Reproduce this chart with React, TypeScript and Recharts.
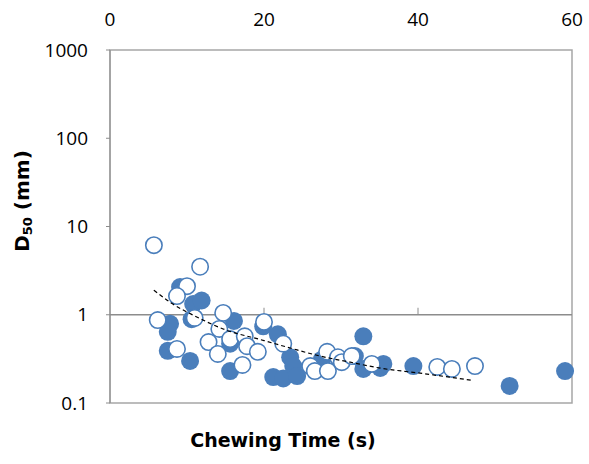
import React from 'react';
import {
  ScatterChart,
  Scatter,
  XAxis,
  YAxis,
  ReferenceArea,
  ReferenceLine,
  ReferenceDot,
} from 'recharts';

// chewing time (s) / D50 (mm), filled markers
const solidTime = [7.8, 7.5, 9.1, 10.8, 11.9, 10.6, 7.5, 10.4, 16.1, 15.6, 15.6, 19.9, 21.8, 21.2, 22.5, 23.4, 23.8, 24.3, 27.5, 31.8, 32.9, 32.9, 35.1, 35.5, 39.4, 51.9, 59.1];
const solidD50 = [0.79, 0.64, 2.06, 1.32, 1.45, 0.89, 0.39, 0.3, 0.85, 0.47, 0.23, 0.74, 0.6, 0.197, 0.19, 0.33, 0.262, 0.202, 0.31, 0.34, 0.57, 0.243, 0.25, 0.277, 0.262, 0.156, 0.23];

// open markers
const openTime = [5.7, 11.7, 10.0, 8.7, 6.2, 11.0, 14.7, 14.2, 12.8, 15.6, 17.5, 17.8, 14.0, 19.2, 8.7, 17.2, 20.0, 22.5, 26.0, 26.6, 28.3, 28.2, 29.6, 30.1, 31.4, 34.0, 42.5, 44.4, 47.4];
const openD50 = [6.15, 3.5, 2.11, 1.63, 0.87, 0.92, 1.05, 0.69, 0.49, 0.53, 0.57, 0.44, 0.36, 0.38, 0.41, 0.27, 0.83, 0.47, 0.262, 0.23, 0.23, 0.38, 0.33, 0.29, 0.34, 0.277, 0.256, 0.243, 0.262];

// dashed trend line
const trendTime = [5.7, 8, 11, 14.7, 20, 23.4, 27.3, 31.2, 35.5, 39.9, 47.1];
const trendD50 = [1.9, 1.35, 0.97, 0.69, 0.51, 0.42, 0.34, 0.29, 0.245, 0.22, 0.18];

const xTicks = [0, 20, 40, 60];
const yTicks = [0.1, 1, 10, 100, 1000];
const crossTicks = [20, 40];

const toPoints = (xs: number[], ys: number[]) => xs.map((x, i) => ({ x, y: ys[i] }));

const solidData = toPoints(solidTime, solidD50);
const openData = toPoints(openTime, openD50);
const trendData = toPoints(trendTime, trendD50);

const BLUE = '#4A7EBB';
const AXIS = '#8C8C8C';
const tickFont = { fill: '#000', fontSize: 19, fontFamily: '"Open Sans", sans-serif' };
const titleFont = '"DejaVu Sans", sans-serif';

const SolidDot = (p: any) => <circle cx={p.cx} cy={p.cy} r={9} fill={BLUE} />;
const OpenDot = (p: any) => (
  <circle cx={p.cx} cy={p.cy} r={8.2} fill="#fff" stroke={BLUE} strokeWidth={1.6} />
);
const UpTick = (p: any) => (
  <line x1={p.cx} y1={p.cy} x2={p.cx} y2={p.cy - 7} stroke={AXIS} strokeWidth={1} />
);

const App: React.FC = () => {
  return (
    <div style={{ width: 589, height: 464 }}>
      <style>{'body{margin:0}'}</style>
      <ScatterChart
        width={589}
        height={464}
        margin={{ top: 20, right: 17, bottom: 61, left: 50 }}
      >
        <XAxis
          type="number"
          dataKey="x"
          orientation="top"
          domain={[0, 60]}
          ticks={xTicks}
          height={30}
          axisLine={false}
          tickLine={false}
          tickSize={0}
          tickMargin={24}
          tick={tickFont}
          label={{
            content: () => (
              <text
                x={283}
                y={447}
                textAnchor="middle"
                fontFamily={titleFont}
                fontWeight="bold"
                fontSize={19}
                fill="#000"
              >
                Chewing Time (s)
              </text>
            ),
          }}
        />
        <YAxis
          type="number"
          dataKey="y"
          scale="log"
          domain={[0.1, 1000]}
          ticks={yTicks}
          allowDataOverflow
          width={60}
          axisLine={{ stroke: AXIS }}
          tickLine={{ stroke: AXIS }}
          tickSize={4}
          tickMargin={18}
          tick={tickFont}
          label={{
            content: () => (
              <text
                x={22}
                y={201}
                transform="rotate(-90, 22, 201)"
                textAnchor="middle"
                dominantBaseline="central"
                fontFamily={titleFont}
                fontWeight="bold"
                fontSize={20}
                fill="#000"
              >
                D
                <tspan fontSize={13} dy={5}>50</tspan>
                <tspan dy={-5}> (mm)</tspan>
              </text>
            ),
          }}
        />
        <ReferenceArea x1={0} x2={60} y1={0.1} y2={1000} fill="none" stroke="#A6A6A6" strokeWidth={1.5} />
        <ReferenceLine y={1} stroke={AXIS} strokeWidth={1.5} />
        {crossTicks.map((t) => (
          <ReferenceDot key={t} x={t} y={1} shape={UpTick} />
        ))}
        <Scatter data={solidData} shape={SolidDot} isAnimationActive={false} />
        <Scatter data={openData} shape={OpenDot} isAnimationActive={false} />
        <Scatter
          data={trendData}
          shape={() => null}
          line={{ stroke: '#000', strokeWidth: 1.2, strokeDasharray: '4 3' }}
          lineJointType="monotoneX"
          isAnimationActive={false}
        />
      </ScatterChart>
    </div>
  );
};

export default App;
